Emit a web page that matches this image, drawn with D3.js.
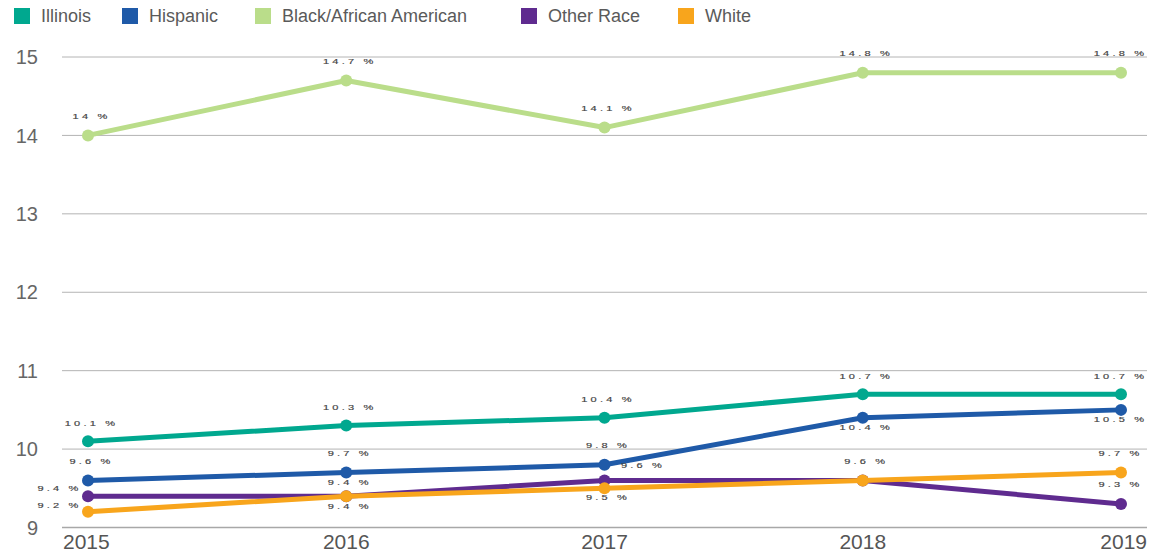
<!DOCTYPE html>
<html>
<head>
<meta charset="utf-8">
<script src="https://cdn.jsdelivr.net/npm/d3@7"></script>
<style>
  html, body { margin: 0; padding: 0; background: #fff; }
  svg { display: block; font-family: "Liberation Sans", Arial, sans-serif; }
</style>
</head>
<body>
<svg id="chart" width="1160" height="556"></svg>
<script>
// Years on the x axis
const years = ["2015", "2016", "2017", "2018", "2019"];

// Rates (%) per group
const illinois = [10.1, 10.3, 10.4, 10.7, 10.7];
const hispanic = [9.6, 9.7, 9.8, 10.4, 10.5];
const black = [14, 14.7, 14.1, 14.8, 14.8];
const otherRace = [9.4, 9.4, 9.6, 9.6, 9.3];
const white = [9.2, 9.4, 9.5, 9.6, 9.7];

// Y axis ticks
const yTicks = [9, 10, 11, 12, 13, 14, 15];

const seriesNames = ["Illinois", "Hispanic", "Black/African American", "Other Race", "White"];
const seriesValues = [illinois, hispanic, black, otherRace, white];
const seriesColors = ["#00a88f", "#1f5aa8", "#badd8a", "#5f2b8f", "#f8a51c"];

// Where each value label sits relative to its point: [dx, dy], null = hidden
const labelOffsets = [
  [[2, -18], [2, -18], [2, -18], [2, -18], [-2, -18]],
  [[2, -19], [2, -19], [2, -19], [2, 10], [-2, 10]],
  [[2, -19], [2, -19], [2, -19], [2, -19], [-2, -19]],
  [[-30, -8], [2, -14], [37, -15], null, [-2, -19]],
  [[-30, -6], [2, 10], [2, 9], [2, -19], [-2, -19]]
];

// Legend item positions (swatch x)
const legendX = [14, 122, 255, 521, 678];

const svg = d3.select("#chart");

const xPad = 26;
const x = d3.scalePoint().domain(years).range([62 + xPad, 1147 - xPad]).padding(0);
const y = d3.scaleLinear().domain([9, 15]).range([527.5, 57]);

// Horizontal gridlines
svg.append("g").selectAll("line")
  .data(yTicks)
  .join("line")
  .attr("x1", 62).attr("x2", 1147)
  .attr("y1", d => y(d)).attr("y2", d => y(d))
  .attr("stroke", d => d === 9 ? "#a8a8a8" : "#b4b4b4")
  .attr("stroke-width", d => d === 9 ? 1.6 : 1);

// Y tick labels
svg.append("g").selectAll("text")
  .data(yTicks)
  .join("text")
  .attr("x", 38)
  .attr("y", d => y(d))
  .attr("dy", "0.36em")
  .attr("text-anchor", "end")
  .attr("font-size", 20)
  .attr("fill", "#666")
  .text(d => d);

// X tick labels: first and last aligned to the plot edges
svg.append("g").selectAll("text")
  .data(years)
  .join("text")
  .attr("x", (d, i) => i === 0 ? 63 : i === years.length - 1 ? 1147 : x(d))
  .attr("y", 549)
  .attr("text-anchor", (d, i) => i === 0 ? "start" : i === years.length - 1 ? "end" : "middle")
  .attr("font-size", 21)
  .attr("fill", "#555")
  .text(d => d);

// Lines and points
const line = d3.line()
  .x((d, i) => x(years[i]))
  .y(d => y(d));

const groups = svg.append("g").selectAll("g")
  .data(seriesValues)
  .join("g");

groups.append("path")
  .attr("d", d => line(d))
  .attr("fill", "none")
  .attr("stroke", (d, i) => seriesColors[i])
  .attr("stroke-width", 5)
  .attr("stroke-linejoin", "round");

groups.each(function(vals, si) {
  d3.select(this).selectAll("circle")
    .data(vals)
    .join("circle")
    .attr("cx", (d, i) => x(years[i]))
    .attr("cy", d => y(d))
    .attr("r", 6)
    .attr("fill", seriesColors[si]);
});

// Value labels (short, wide lettering)
const labels = [];
seriesValues.forEach((vals, si) => {
  vals.forEach((v, i) => {
    const off = labelOffsets[si][i];
    if (off) labels.push({ v, i, dx: off[0], dy: off[1] });
  });
});

svg.append("g").selectAll("text")
  .data(labels)
  .join("text")
  .attr("transform", d => `translate(${x(years[d.i]) + d.dx + 1.5},${y(d.v) + d.dy}) scale(1,0.6)`)
  .attr("text-anchor", "middle")
  .attr("dy", "0.36em")
  .attr("font-size", 11)
  .attr("letter-spacing", 3.2)
  .attr("stroke", "#444")
  .attr("stroke-width", 0.25)
  .attr("fill", "#444")
  .text(d => d3.format("~g")(d.v) + " %");

// Legend
const legend = svg.append("g").selectAll("g")
  .data(seriesNames)
  .join("g")
  .attr("transform", (d, i) => `translate(${legendX[i]},0)`);

legend.append("rect")
  .attr("x", 0).attr("y", 8)
  .attr("width", 16).attr("height", 16)
  .attr("fill", (d, i) => seriesColors[i]);

legend.append("text")
  .attr("x", 27)
  .attr("y", 16)
  .attr("dy", "0.36em")
  .attr("font-size", 18)
  .attr("fill", "#5a5a5a")
  .text(d => d);
</script>
</body>
</html>
